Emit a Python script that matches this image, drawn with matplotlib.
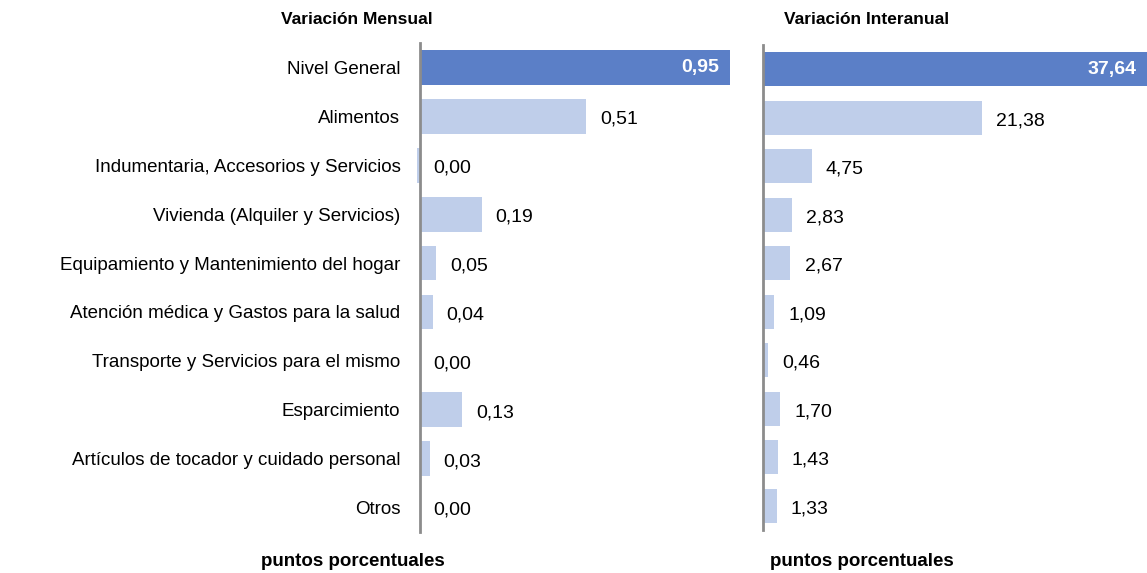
import matplotlib
matplotlib.use('Agg')
import matplotlib.pyplot as plt

categorias = ['Nivel General', 'Alimentos', 'Indumentaria, Accesorios y Servicios',
              'Vivienda (Alquiler y Servicios)', 'Equipamiento y Mantenimiento del hogar',
              'Atención médica y Gastos para la salud', 'Transporte y Servicios para el mismo',
              'Esparcimiento', 'Artículos de tocador y cuidado personal', 'Otros']
mensual = [0.95, 0.51, -0.01, 0.19, 0.05, 0.04, 0.0, 0.13, 0.03, 0.0]
mensual_txt = ['0,95', '0,51', '0,00', '0,19', '0,05', '0,04', '0,00', '0,13', '0,03', '0,00']
interanual = [37.64, 21.38, 4.75, 2.83, 2.67, 1.09, 0.46, 1.70, 1.43, 1.33]
interanual_txt = ['37,64', '21,38', '4,75', '2,83', '2,67', '1,09', '0,46', '1,70', '1,43', '1,33']

oscuro = '#5B7FC7'
claro = '#BFCEEA'

plt.rcParams['font.family'] = ['Liberation Sans', 'DejaVu Sans']

W, H = 1147, 573
fig = plt.figure(figsize=(W / 100, H / 100), dpi=100)

def px(x0, y0, x1, y1):
  # pixel box -> figure fraction
  return [x0 / W, 1 - y1 / H, (x1 - x0) / W, (y1 - y0) / H]

ax1 = fig.add_axes(px(415, 43, 746, 532))
ax2 = fig.add_axes(px(763, 45, 1147, 530))

def panel(ax, vals, txts, xmin, xmax, gap):
  y = list(range(len(vals)))
  colores = [oscuro] + [claro] * (len(vals) - 1)
  ax.barh(y, vals, height=0.71, color=colores, zorder=2)
  ax.set_xlim(xmin, xmax)
  ax.set_ylim(9.5, -0.5)
  for s in ['top', 'right', 'bottom']:
    ax.spines[s].set_visible(False)
  ax.spines['left'].set_position(('data', 0))
  ax.spines['left'].set_color('#8C8C8C')
  ax.spines['left'].set_linewidth(2)
  ax.spines['left'].set_zorder(3)
  ax.set_xticks([])
  ax.tick_params(axis='y', length=0, pad=14, labelsize=13.5)
  for i, (v, t) in enumerate(zip(vals, txts)):
    if i == 0:
      ax.text(v - gap * 0.8, i, t, ha='right', va='center', color='white',
              fontsize=14, fontweight='bold')
    else:
      ax.text(max(v, 0) + gap, i + 0.06, t, ha='left', va='center', fontsize=14)

panel(ax1, mensual, mensual_txt, -0.015, 1.0, 0.042)
ax1.set_yticks(range(len(categorias)))
ax1.set_yticklabels(categorias)

panel(ax2, interanual, interanual_txt, 0, 37.5, 1.4)
ax2.set_yticks([])

fig.text(357 / W, 1 - 20 / H, 'Variación Mensual', ha='center', va='center',
         fontsize=12.5, fontweight='bold')
fig.text(867 / W, 1 - 20 / H, 'Variación Interanual', ha='center', va='center',
         fontsize=12.5, fontweight='bold')
fig.text(353 / W, 1 - 561 / H, 'puntos porcentuales', ha='center', va='center',
         fontsize=13.5, fontweight='bold')
fig.text(862 / W, 1 - 561 / H, 'puntos porcentuales', ha='center', va='center',
         fontsize=13.5, fontweight='bold')

fig.savefig('out.png', dpi=100)
